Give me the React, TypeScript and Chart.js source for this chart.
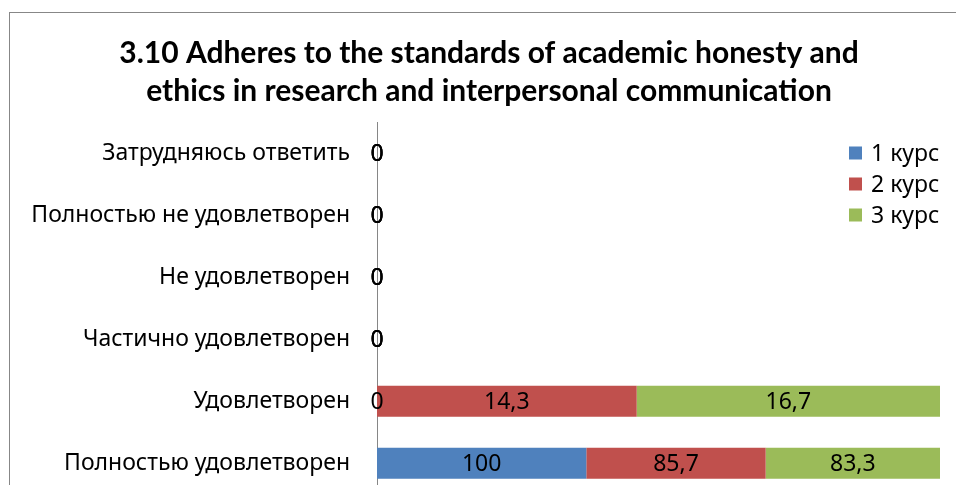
import React, { useEffect, useRef } from "react";
import { Chart, registerables } from "chart.js";

Chart.register(...registerables);

const titleLines = [
  "3.10 Adheres to the standards of academic honesty and",
  "ethics in research and interpersonal communication",
];
const categories = [
  "Затрудняюсь ответить",
  "Полностью не удовлетворен",
  "Не удовлетворен",
  "Частично удовлетворен",
  "Удовлетворен",
  "Полностью удовлетворен",
];
const seriesNames = ["1 курс", "2 курс", "3 курс"];
const course1 = [0, 0, 0, 0, 0, 100];
const course2 = [0, 0, 0, 0, 14.3, 85.7];
const course3 = [0, 0, 0, 0, 16.7, 83.3];
const colors = ["#4F81BD", "#C0504D", "#9BBB59"];

const LABEL_FONT = "'Noto Sans', sans-serif";
const TITLE_FONT = "Lato, 'Noto Sans', sans-serif";

const fmt = (v: number) => String(v).replace(".", ",");

export default function App() {
  const ref = useRef<HTMLCanvasElement | null>(null);

  useEffect(() => {
    const raw = [course1, course2, course3];
    const totals = categories.map((_, j) => raw.reduce((s, r) => s + r[j], 0));
    const datasets = raw.map((r, i) => ({
      label: seriesNames[i],
      data: r.map((v, j) => (totals[j] ? (v / totals[j]) * 100 : 0)),
      rawValues: r,
      backgroundColor: colors[i],
      borderWidth: 0,
      barPercentage: 0.5,
      categoryPercentage: 1,
    }));

    const titlePlugin = {
      id: "customTitle",
      afterDraw(chart: any) {
        const ctx = chart.ctx;
        ctx.save();
        ctx.font = `bold 30px ${TITLE_FONT}`;
        ctx.fillStyle = "#000";
        ctx.textAlign = "center";
        ctx.textBaseline = "alphabetic";
        titleLines.forEach((line, i) => {
          ctx.fillText(line, 489, 63 + i * 38);
        });
        ctx.restore();
      },
    };

    const labelPlugin = {
      id: "valueLabels",
      afterDatasetsDraw(chart: any) {
        const ctx = chart.ctx;
        ctx.save();
        ctx.font = `23px ${LABEL_FONT}`;
        ctx.fillStyle = "#000";
        ctx.textAlign = "center";
        ctx.textBaseline = "middle";
        chart.data.datasets.forEach((ds: any, i: number) => {
          const meta = chart.getDatasetMeta(i);
          meta.data.forEach((bar: any, j: number) => {
            const p = bar.getProps(["x", "y", "base"], true);
            ctx.fillText(fmt(ds.rawValues[j]), (p.x + p.base) / 2, p.y + 1);
          });
        });
        ctx.restore();
      },
    };

    const legendPlugin = {
      id: "customLegend",
      afterDraw(chart: any) {
        const ctx = chart.ctx;
        ctx.save();
        ctx.font = `23px ${LABEL_FONT}`;
        ctx.textAlign = "left";
        ctx.textBaseline = "middle";
        chart.data.datasets.forEach((ds: any, i: number) => {
          const cy = 153 + i * 31;
          ctx.fillStyle = ds.backgroundColor;
          ctx.fillRect(849, cy - 6.5, 13, 13);
          ctx.fillStyle = "#000";
          ctx.fillText(ds.label, 871, cy + 1);
        });
        ctx.restore();
      },
    };

    const chart = new Chart(ref.current as HTMLCanvasElement, {
      type: "bar",
      data: { labels: categories, datasets: datasets as any },
      options: {
        indexAxis: "y",
        animation: false,
        responsive: false,
        maintainAspectRatio: false,
        layout: { padding: { left: 0, right: 16, top: 122, bottom: 16 } },
        plugins: {
          legend: { display: false },
          tooltip: { enabled: false },
          title: { display: false },
        },
        scales: {
          x: { stacked: true, min: 0, max: 100, display: false },
          y: {
            stacked: true,
            grid: { display: false, drawTicks: false },
            border: { display: true, color: "#868686", width: 1 },
            ticks: {
              color: "#000",
              font: { family: LABEL_FONT, size: 23 },
              padding: 27,
            },
            afterFit: (scale: any) => {
              scale.width = 377;
            },
          },
        },
      },
      plugins: [titlePlugin, labelPlugin, legendPlugin],
    });
    return () => chart.destroy();
  }, []);

  return (
    <div
      style={{
        position: "fixed",
        left: 0,
        top: 0,
        width: 956,
        height: 485,
        overflow: "hidden",
        background: "#fff",
      }}
    >
      <div
        style={{
          position: "absolute",
          left: 9,
          top: 12,
          width: 1100,
          height: 700,
          border: "1px solid #878787",
        }}
      />
      <canvas
        ref={ref}
        width={956}
        height={535}
        style={{ position: "absolute", left: 0, top: 0, width: 956, height: 535 }}
      />
    </div>
  );
}
